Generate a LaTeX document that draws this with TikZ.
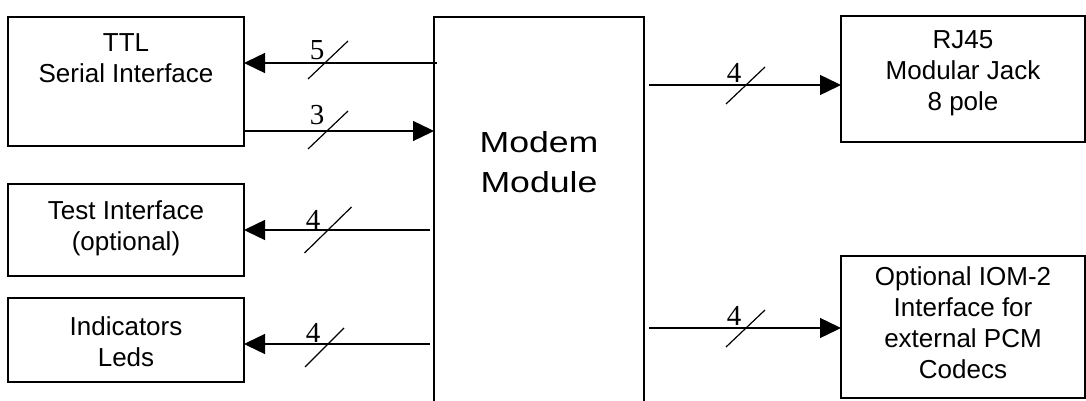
\documentclass[tikz,border=0pt]{standalone}
\usepackage{fontspec}
\usepackage{graphicx}
\setmainfont{Liberation Sans}
\newfontfamily\serifnum{Liberation Serif}
\usetikzlibrary{arrows.meta,calc}
\begin{document}
\begin{tikzpicture}[x=1pt,y=-1pt,
  box/.style={draw,line width=1.6pt,inner sep=0pt,outer sep=0pt},
  txt/.style={align=center,inner sep=0pt,font=\fontsize{26}{31}\selectfont},
  bigtxt/.style={align=center,inner sep=0pt,font=\fontsize{29}{40}\selectfont},
  arr/.style={line width=1.4pt,-{Triangle[length=21pt,width=20pt]}},
  slashln/.style={line width=1.2pt},
  num/.style={inner sep=0pt,font=\serifnum\fontsize{29}{29}\selectfont}]
\useasboundingbox (0,0) rectangle (1086,401);
% boxes
\node[box,minimum width=236pt,minimum height=129pt] (ttl) at (126,81.5) {};
\node[box,minimum width=236pt,minimum height=92pt] (test) at (126,230) {};
\node[box,minimum width=236pt,minimum height=84pt] (led) at (126,340) {};
\node[inner sep=0pt,outer sep=0pt,minimum width=210pt,minimum height=384pt] (modem) at (539,209) {};
\draw[line width=1.6pt] (modem.south west) -- (modem.north west) -- (modem.north east) -- (modem.south east);
\node[box,minimum width=244pt,minimum height=126pt] (rj) at (963,79) {};
\node[box,minimum width=244pt,minimum height=142pt] (iom) at (963,327) {};
% texts
\node[txt] (ttltxt) at (126,58.5) {TTL\\Serial Interface};
\node[txt] (testtxt) at (126,228) {Test Interface\\(optional)};
\node[txt] (ledtxt) at (126,342) {Indicators\\Leds};
\node[bigtxt] (modemtxt) at (539,162) {\scalebox{1.23}[1]{Modem}\\\scalebox{1.23}[1]{Module}};
\node[txt] (rjtxt) at (963,73) {RJ45\\Modular Jack\\8 pole};
\node[txt] (iomtxt) at (963,322.5) {Optional IOM-2\\Interface for\\external PCM\\Codecs};
% rows
\coordinate (yA) at (0,63);
\coordinate (yB) at (0,131);
\coordinate (yC) at (0,230);
\coordinate (yD) at (0,344);
\coordinate (yE) at (0,85);
\coordinate (yF) at (0,328);
% connectors
\draw[arr] ($(modem.west|-yA)+(3,0)$) -- (ttl.east|-yA);
\draw[arr] (ttl.east|-yB) -- (modem.west|-yB);
\draw[arr] ($(modem.west|-yC)+(-4,0)$) -- (test.east|-yC);
\draw[arr] ($(modem.west|-yD)+(-4,0)$) -- (led.east|-yD);
\draw[arr] ($(modem.east|-yE)+(5,0)$) -- (rj.west|-yE);
\draw[arr] ($(modem.east|-yF)+(5,0)$) -- (iom.west|-yF);
% bus slashes
\coordinate (sA) at (328,60);
\coordinate (sB) at (328,130);
\coordinate (sC) at (328,230);
\coordinate (sD) at (324.5,347.5);
\coordinate (sE) at (745.5,85.5);
\coordinate (sF) at (745.5,328.5);
\draw[slashln] ($(sA)+(-20,19)$) -- ($(sA)+(20,-19)$);
\draw[slashln] ($(sB)+(-20,19)$) -- ($(sB)+(20,-19)$);
\draw[slashln] ($(sC)+(-23.5,23)$) -- ($(sC)+(23.5,-23)$);
\draw[slashln] ($(sD)+(-19.5,19.5)$) -- ($(sD)+(19.5,-19.5)$);
\draw[slashln] ($(sE)+(-19.5,18.5)$) -- ($(sE)+(19.5,-18.5)$);
\draw[slashln] ($(sF)+(-19.5,18.5)$) -- ($(sF)+(19.5,-18.5)$);
\node[num] (nA) at (317,50) {5};
\node[num] (nB) at (317,115) {3};
\node[num] (nC) at (313,220) {4};
\node[num] (nD) at (313,333) {4};
\node[num] (nE) at (734,73) {4};
\node[num] (nF) at (734,316) {4};
\end{tikzpicture}
\end{document}
